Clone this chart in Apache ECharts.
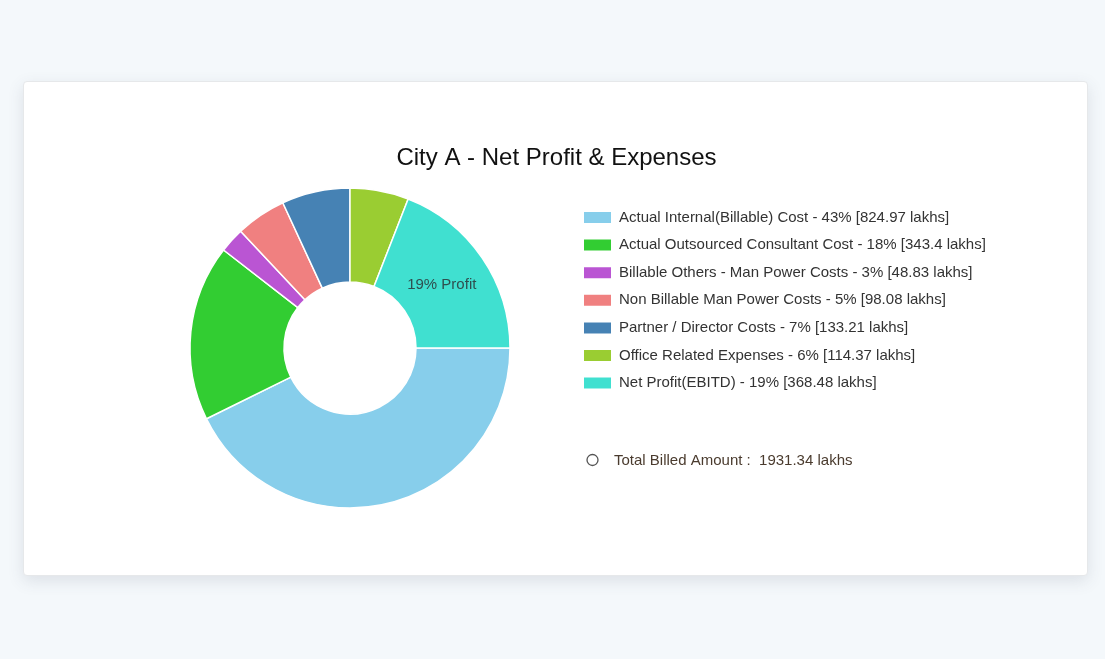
<!DOCTYPE html>
<html>
<head>
<meta charset="utf-8">
<script src="https://cdn.jsdelivr.net/npm/echarts@6/dist/echarts.min.js"></script>
<style>
  html, body { margin: 0; padding: 0; background: #f4f8fb; width: 1105px; height: 659px; overflow: hidden; }
  #card { position: absolute; left: 23px; top: 81px; width: 1065px; height: 495px; background: #fff;
          border-radius: 4px; border: 1px solid #e6e8ea; box-sizing: border-box;
          box-shadow: 0 5px 16px rgba(60,70,90,0.13); }
  #chart { position: absolute; left: 0; top: 0; width: 1065px; height: 495px; }
</style>
</head>
<body>
<div id="card"><div id="chart"></div></div>
<script>
const titleText = 'City A - Net Profit & Expenses';
const categories = [
  'Actual Internal(Billable) Cost',
  'Actual Outsourced Consultant Cost',
  'Billable Others - Man Power Costs',
  'Non Billable Man Power Costs',
  'Partner / Director Costs',
  'Office Related Expenses',
  'Net Profit(EBITD)'
];
const values = [824.97, 343.4, 48.83, 98.08, 133.21, 114.37, 368.48];
const percents = [43, 18, 3, 5, 7, 6, 19];
const colors = ['#87CEEB', '#32CD32', '#BA55D3', '#F08080', '#4682B4', '#9ACD32', '#40E0D0'];
const totalBilled = '1931.34';
const profitLabel = '19% Profit';

const FONT = '"Liberation Sans", Arial, sans-serif';
const chart = echarts.init(document.getElementById('chart'), null, { renderer: 'canvas' });

const data = categories.map((c, i) => ({
  name: c,
  value: values[i],
  itemStyle: { color: colors[i] },
  label: i === categories.length - 1 ? { show: true } : { show: false }
}));

chart.setOption({
  animation: false,
  title: {
    text: titleText,
    left: 'center',
    top: 59,
    textStyle: { fontFamily: FONT, fontSize: 24, fontWeight: 'normal', color: '#111' }
  },
  legend: {
    orient: 'vertical',
    left: 553,
    top: 123,
    itemWidth: 29,
    itemHeight: 13,
    itemGap: 12.6,
    icon: 'rect',
    selectedMode: false,
    data: categories,
    formatter: function (name) {
      const i = categories.indexOf(name);
      return name + ' - ' + percents[i] + '% [' + values[i] + ' lakhs]';
    },
    textStyle: { fontFamily: FONT, fontSize: 15, lineHeight: 15, color: '#333', padding: [0, 0, 0, 2] }
  },
  graphic: [
    { type: 'circle', shape: { cx: 568.5, cy: 378, r: 5.5 }, style: { fill: '#fff', stroke: '#555', lineWidth: 1.3 } },
    { type: 'text', left: 590, top: 371, style: { text: 'Total Billed Amount :  ' + totalBilled + ' lakhs', font: '15px ' + FONT, fill: '#4a3b2e' } }
  ],
  series: [{
    type: 'pie',
    center: [326, 266],
    radius: [66, 160],
    startAngle: 0,
    clockwise: true,
    avoidLabelOverlap: false,
    itemStyle: { borderColor: '#fff', borderWidth: 1.5 },
    label: {
      position: 'inside',
      offset: [-4, 2],
      formatter: function () { return profitLabel; },
      fontFamily: FONT, fontSize: 15, color: '#2f4f4f'
    },
    labelLine: { show: false },
    emphasis: { disabled: true },
    data: data
  }]
});
</script>
</body>
</html>
